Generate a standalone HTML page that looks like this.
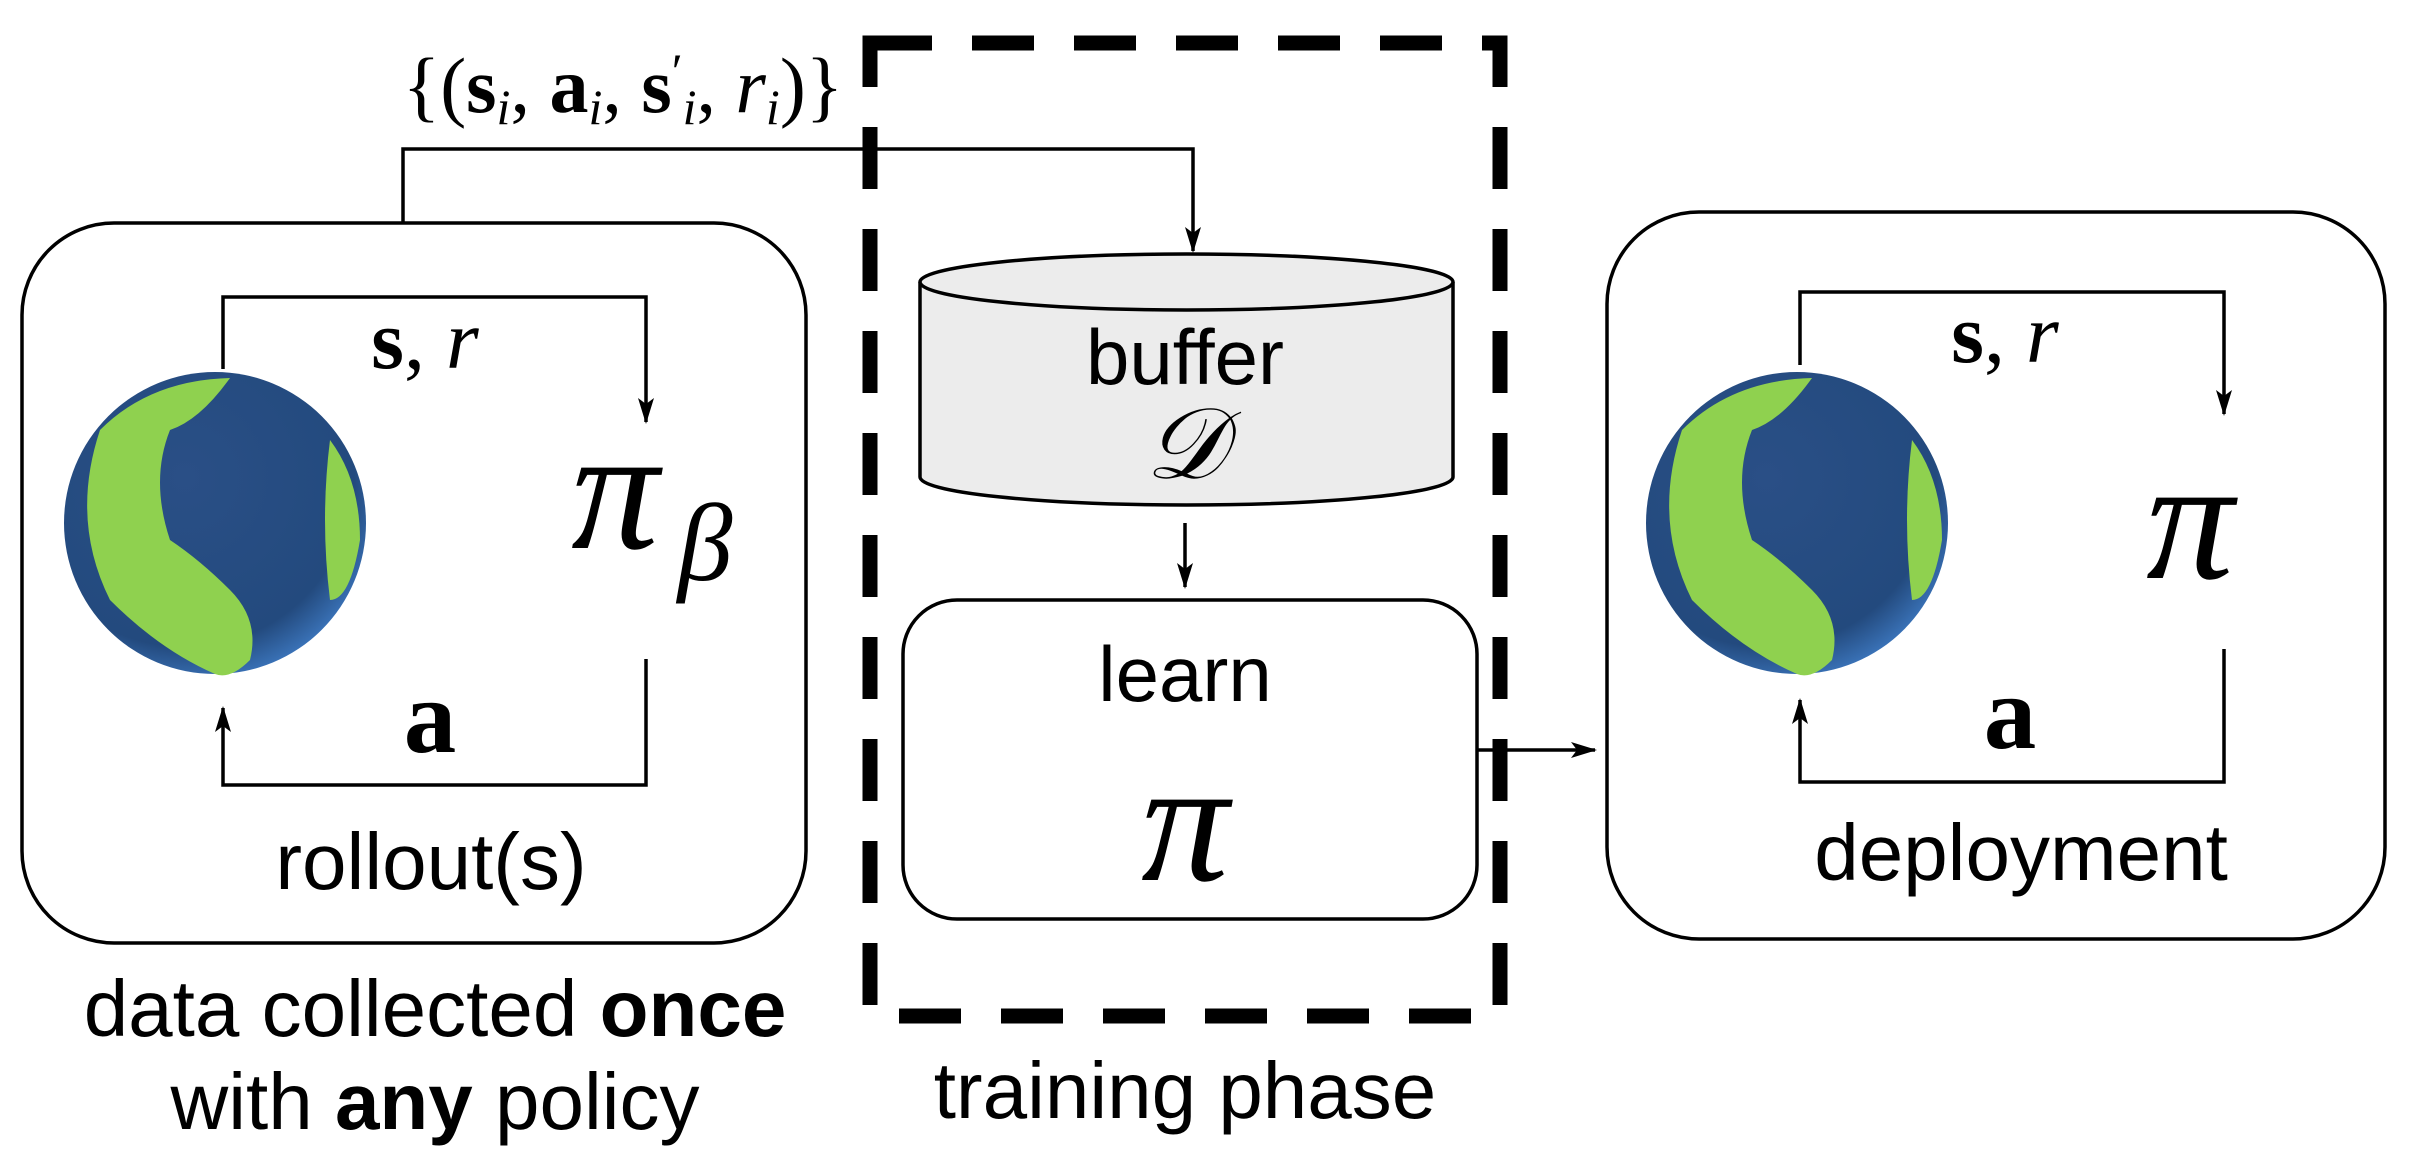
<!DOCTYPE html>
<html><head><meta charset="utf-8"><style>
html,body{margin:0;padding:0;background:#fff;}
svg{display:block}
.t{font-family:"Liberation Sans",sans-serif;fill:#000}
.m{font-family:"Liberation Serif",serif;fill:#000}
</style></head><body>
<svg width="2413" height="1174" viewBox="0 0 2413 1174" xmlns="http://www.w3.org/2000/svg">
<defs>
<marker id="ar" markerWidth="26" markerHeight="16" refX="24" refY="8" orient="auto" markerUnits="userSpaceOnUse" viewBox="0 0 26 16">
<path d="M0,0 L26,8 L0,16 L6,8 Z" fill="#000"/></marker>
<radialGradient id="g" cx="0.4" cy="0.35" r="0.7">
<stop offset="0" stop-color="#2a4f86"/><stop offset="0.8" stop-color="#234a7e"/><stop offset="1" stop-color="#3d78c0"/></radialGradient>
</defs>
<g fill="none" stroke="#000" stroke-width="3.5">
<rect x="22" y="223" width="784" height="720" rx="92"/>
<rect x="1607" y="212" width="778" height="727" rx="92"/>
<rect x="903" y="600" width="574" height="319" rx="54"/>
<polyline points="403,223 403,149 1193,149 1193,251" marker-end="url(#ar)"/>
<line x1="1185" y1="523" x2="1185" y2="587" marker-end="url(#ar)"/>
<line x1="1477" y1="750" x2="1595" y2="750" marker-end="url(#ar)"/>
<polyline points="223,369 223,297 646,297 646,422" marker-end="url(#ar)"/>
<polyline points="646,659 646,785 223,785 223,708" marker-end="url(#ar)"/>
<polyline points="1800,365 1800,292 2224,292 2224,414" marker-end="url(#ar)"/>
<polyline points="2224,649 2224,782 1800,782 1800,700" marker-end="url(#ar)"/>
</g>
<path d="M920,282 L920,477 A266.5,28 0 0 0 1453,477 L1453,282" fill="#ececec" stroke="#000" stroke-width="3.5"/>
<ellipse cx="1186.5" cy="282" rx="266.5" ry="28" fill="#ececec" stroke="#000" stroke-width="3.5"/>
<rect x="870" y="43" width="630" height="973" fill="none" stroke="#000" stroke-width="15" stroke-dasharray="62,40"/>
<g>
<circle cx="215" cy="523" r="151" fill="url(#g)"/>
<path d="M100,430 Q150,380 230,378 Q200,420 170,430 Q150,480 170,540 Q200,560 230,590 Q260,620 250,660 Q230,680 215,674 Q160,650 110,600 Q70,520 100,430 Z" fill="#8fd14f"/>
<path d="M330,440 Q360,480 360,540 Q350,600 330,600 Q320,520 330,440 Z" fill="#8fd14f"/>
<circle cx="1797" cy="523" r="151" fill="url(#g)"/>
<path d="M1682,430 Q1732,380 1812,378 Q1782,420 1752,430 Q1732,480 1752,540 Q1782,560 1812,590 Q1842,620 1832,660 Q1812,680 1797,674 Q1742,650 1692,600 Q1652,520 1682,430 Z" fill="#8fd14f"/>
<path d="M1912,440 Q1942,480 1942,540 Q1932,600 1912,600 Q1902,520 1912,440 Z" fill="#8fd14f"/>
</g>
<text class="m" x="623" y="112" font-size="78" text-anchor="middle">{(<tspan font-weight="bold">s</tspan><tspan font-style="italic" font-size="50" dy="12">i</tspan><tspan dy="-12">, </tspan><tspan font-weight="bold">a</tspan><tspan font-style="italic" font-size="50" dy="12">i</tspan><tspan dy="-12">, </tspan><tspan font-weight="bold">s</tspan><tspan font-size="50" dy="-24">′</tspan><tspan font-style="italic" font-size="50" dy="36">i</tspan><tspan dy="-12">, </tspan><tspan font-style="italic">r</tspan><tspan font-style="italic" font-size="50" dy="12">i</tspan><tspan dy="-12">)}</tspan></text>
<text class="m" x="425" y="368" font-size="84" text-anchor="middle"><tspan font-weight="bold">s</tspan>, <tspan font-style="italic">r</tspan></text>
<text class="m" x="2005" y="362" font-size="84" text-anchor="middle"><tspan font-weight="bold">s</tspan>, <tspan font-style="italic">r</tspan></text>
<text class="m" x="430" y="752" font-size="105" font-weight="bold" text-anchor="middle">a</text>
<text class="m" x="2010" y="748" font-size="105" font-weight="bold" text-anchor="middle">a</text>
<text class="m" x="615" y="548" font-size="175" font-style="italic" text-anchor="middle">π</text>
<text class="m" x="705" y="580" font-size="110" font-style="italic" text-anchor="middle">β</text>
<text class="m" x="2190" y="578" font-size="175" font-style="italic" text-anchor="middle">π</text>
<text class="m" x="1185" y="880" font-size="175" font-style="italic" text-anchor="middle">π</text>
<text class="m" x="1185" y="478" font-size="100" font-style="italic" text-anchor="middle">𝒟</text>
<text class="t" x="1185" y="384" font-size="78" text-anchor="middle">buffer</text>
<text class="t" x="1185" y="701" font-size="78" text-anchor="middle">learn</text>
<text class="t" x="431" y="889" font-size="80" text-anchor="middle">rollout(s)</text>
<text class="t" x="2021" y="880" font-size="80" text-anchor="middle">deployment</text>
<text class="t" x="435" y="1036" font-size="80" text-anchor="middle">data collected <tspan font-weight="bold">once</tspan></text>
<text class="t" x="435" y="1129" font-size="80" text-anchor="middle">with <tspan font-weight="bold">any</tspan> policy</text>
<text class="t" x="1185" y="1118" font-size="80" text-anchor="middle">training phase</text>
</svg>
</body></html>
